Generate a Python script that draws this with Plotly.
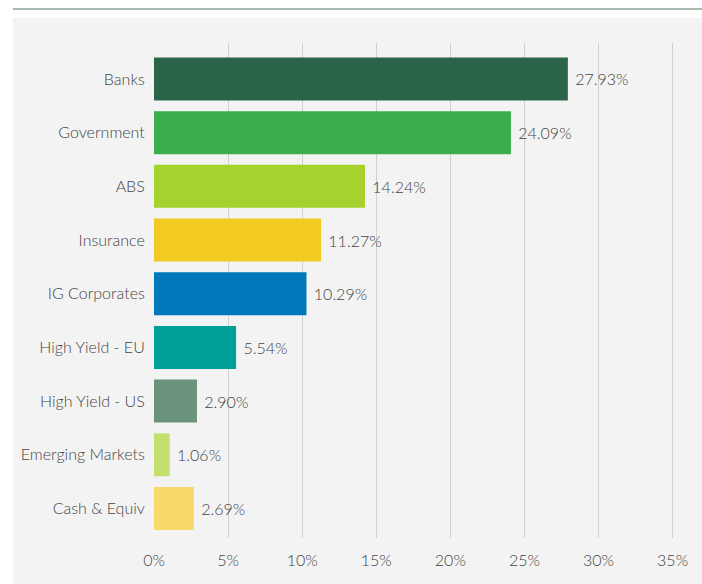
import plotly.graph_objects as go

categories = ["Banks", "Government", "ABS", "Insurance", "IG Corporates",
              "High Yield - EU", "High Yield - US", "Emerging Markets", "Cash & Equiv"]
values = [27.93, 24.09, 14.24, 11.27, 10.29, 5.54, 2.90, 1.06, 2.69]
labels = ["27.93%", "24.09%", "14.24%", "11.27%", "10.29%", "5.54%", "2.90%", "1.06%", "2.69%"]
colors = ["#2c6449", "#3aae4c", "#a6d22e", "#f1cb22", "#0079bb",
          "#009f98", "#6b927b", "#c3e06f", "#f7da6a"]
tick_vals = [0, 5, 10, 15, 20, 25, 30, 35]
tick_text = ["0%", "5%", "10%", "15%", "20%", "25%", "30%", "35%"]

font = dict(family="Lato, sans-serif", size=16, color="#444444", weight=300)

fig = go.Figure(go.Bar(
    x=values, y=categories, orientation="h",
    marker=dict(color=colors, line=dict(width=0)),
    width=0.8,
    text=labels, texttemplate=" %{text}", textposition="outside", cliponaxis=False,
    textfont=font, hoverinfo="skip",
))

fig.update_layout(
    width=702, height=584,
    margin=dict(l=154, r=22, t=43, b=46),
    paper_bgcolor="white", plot_bgcolor="#f3f3f3",
    font=font,
    showlegend=False,
    bargap=0.2,
    xaxis=dict(range=[0, 35.5], tickvals=tick_vals, ticktext=tick_text,
               showgrid=True, gridcolor="#d0d0d0", gridwidth=1.2,
               zeroline=False, showline=False,
               ticks="outside", ticklen=8, tickcolor="rgba(0,0,0,0)",
               tickfont=font, fixedrange=True),
    yaxis=dict(categoryorder="array", categoryarray=categories,
               range=[8.55, -0.67], showgrid=False, zeroline=False,
               ticks="outside", ticklen=5, tickcolor="rgba(0,0,0,0)",
               tickfont=font, fixedrange=True),
    shapes=[
        dict(type="rect", xref="paper", yref="paper", layer="below",
             x0=-141/526, x1=(702-154)/526, y0=-46/495, y1=(584-18-46)/495,
             fillcolor="#f3f3f3", line=dict(width=0)),
        dict(type="line", xref="paper", yref="paper",
             x0=-141/526, x1=(702-154)/526, y0=(584-9-46)/495, y1=(584-9-46)/495,
             line=dict(color="#a9b9ae", width=2)),
    ],
)

fig.write_html("out.html", config={"displayModeBar": False},
               post_script="document.body.style.margin='0';")
